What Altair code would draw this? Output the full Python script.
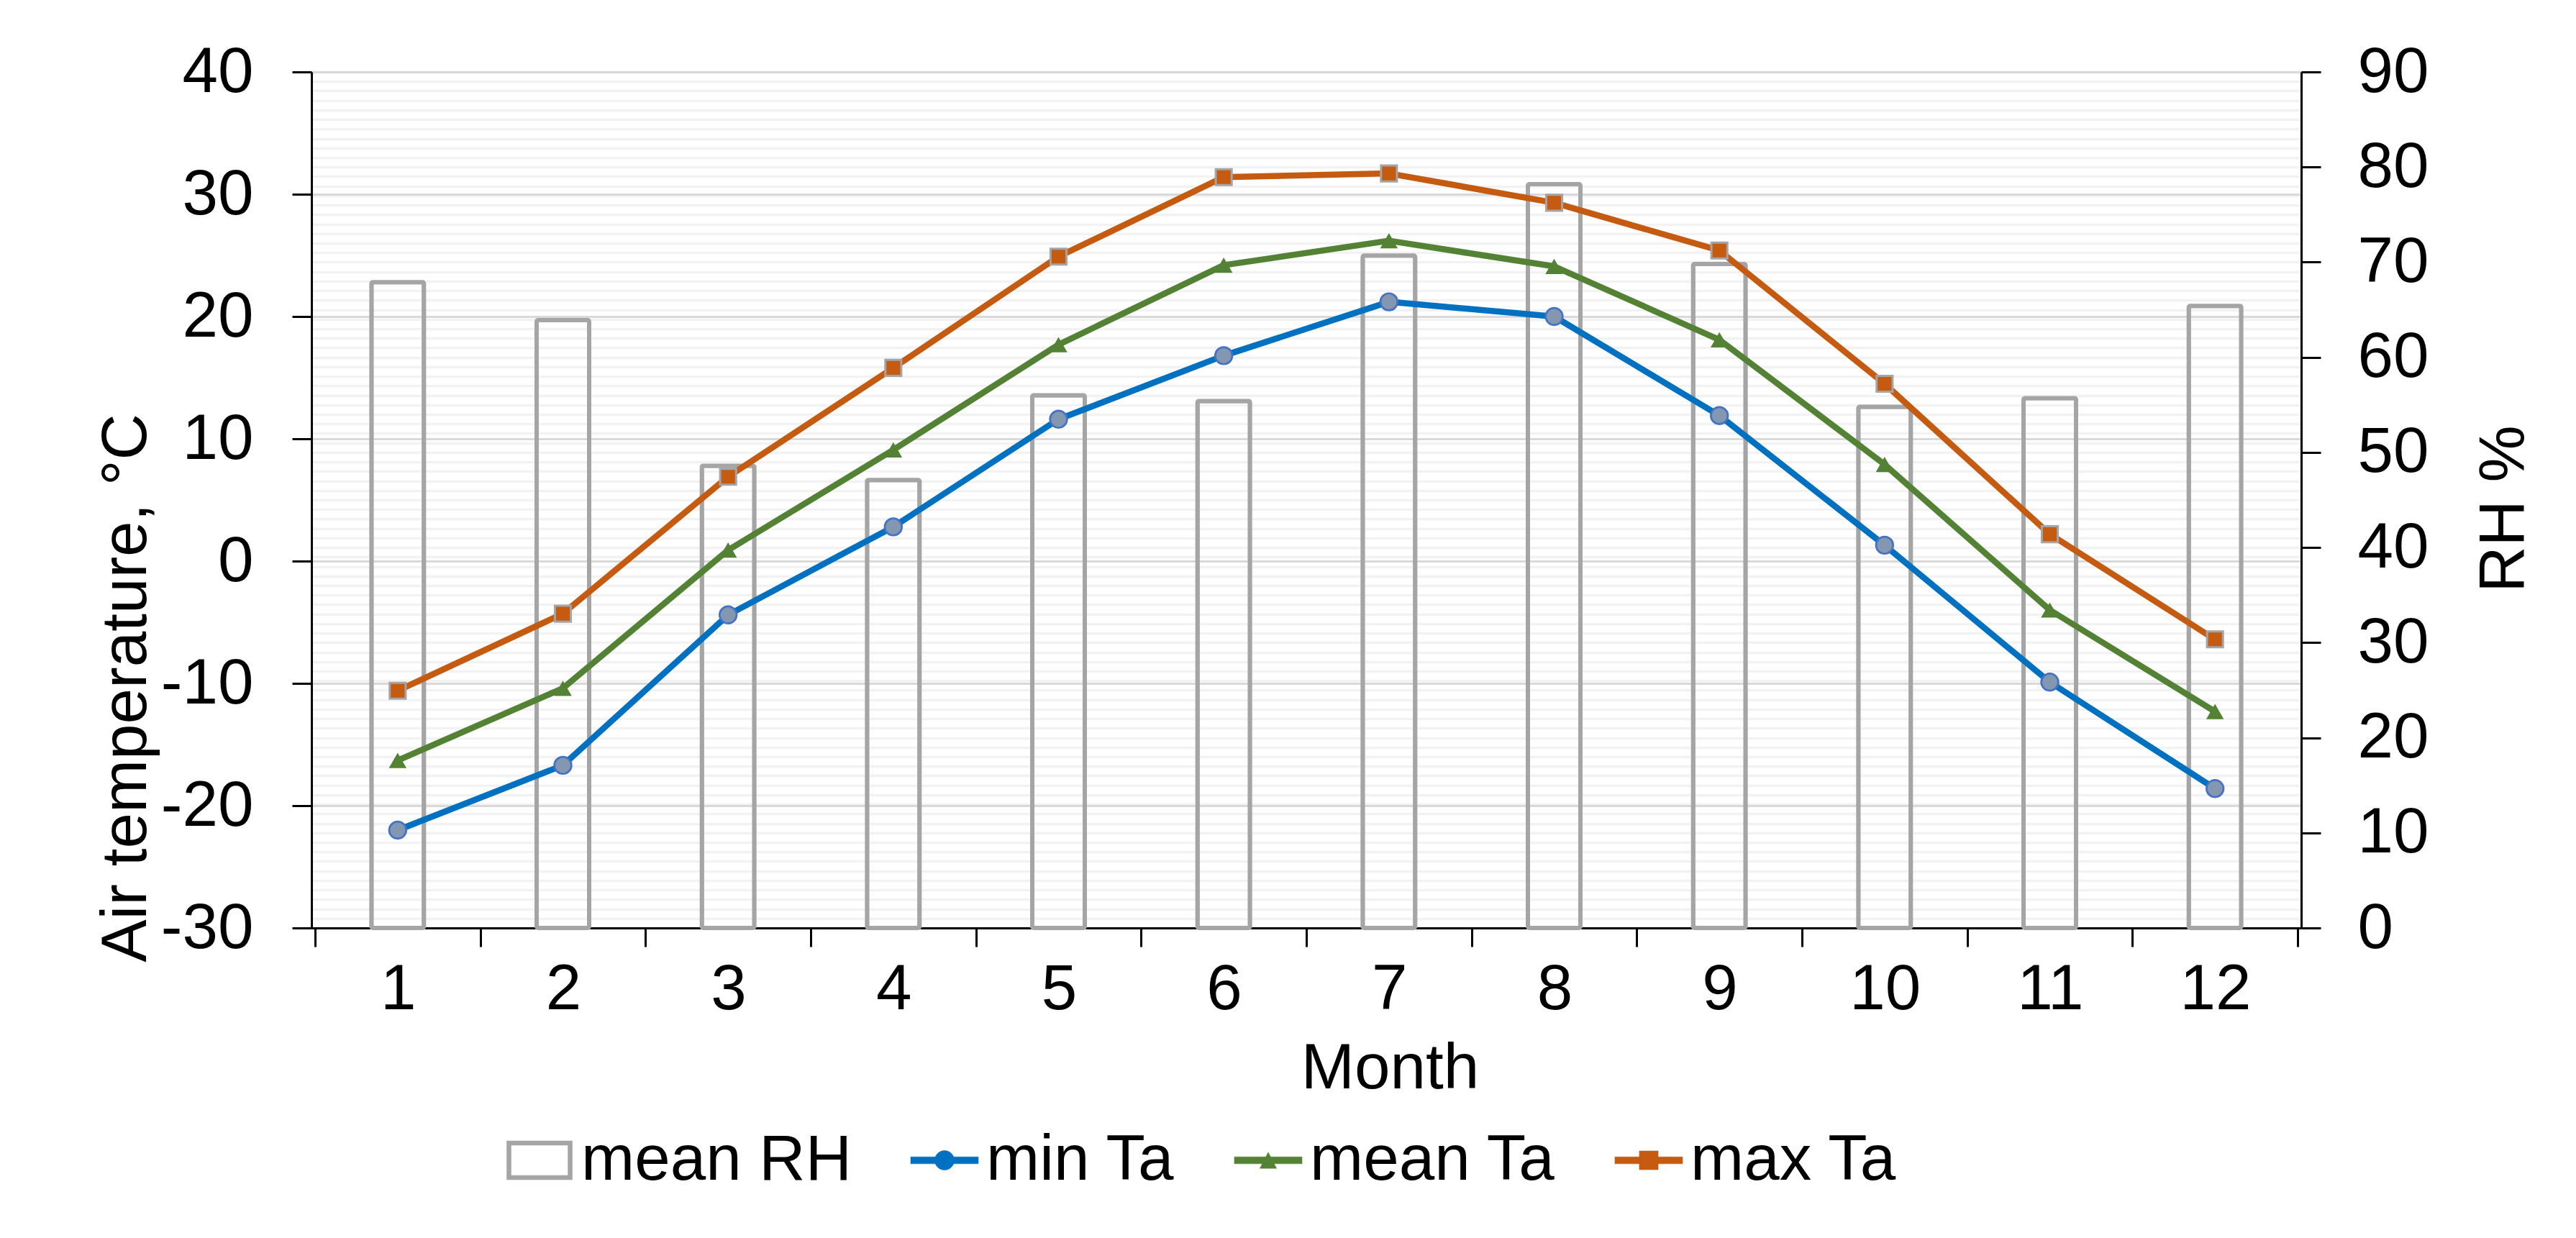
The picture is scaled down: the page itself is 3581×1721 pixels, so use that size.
import altair as alt
import pandas as pd

# ---------------- data ----------------
months = list(range(1, 13))
mean_rh = [67.9, 63.9, 48.6, 47.1, 56.0, 55.4, 70.7, 78.2, 69.8, 54.8, 55.7, 65.4]
min_ta = [-22.0, -16.7, -4.4, 2.8, 11.6, 16.8, 21.2, 20.0, 11.9, 1.3, -9.9, -18.6]
mean_ta = [-16.3, -10.4, 0.9, 9.1, 17.7, 24.2, 26.2, 24.1, 18.1, 7.9, -4.0, -12.3]
max_ta = [-10.6, -4.3, 6.9, 15.8, 24.9, 31.4, 31.7, 29.3, 25.4, 14.5, 2.2, -6.4]

series_names = ["mean RH", "min Ta", "mean Ta", "max Ta"]
x_tick_values = [m - 0.5 for m in months] + [12.5]
left_ticks = list(range(-30, 41, 10))
right_ticks = list(range(0, 91, 1))

# ---------------- styles ----------------
FONT = "Liberation Sans"
FS = 89
BLUE = "#0070C0"
GREEN = "#548235"
ORANGE = "#C55A11"
GRAY = "#A5A5A5"

legend_colors = [GRAY, BLUE, GREEN, ORANGE]
LINE = "M-0.97,-0.1H0.97V0.1H-0.97Z"
legend_paths = [
    "M-0.94,-0.557H0.94V0.557H-0.94Z M-0.814,-0.433V0.433H0.814V-0.433Z",
    LINE + " M0.28,0A0.28,0.28 0 1 1 -0.28,0A0.28,0.28 0 1 1 0.28,0Z",
    LINE + " M0,-0.23L0.24,0.23H-0.24Z",
    LINE + " M-0.27,-0.27H0.27V0.27H-0.27Z",
]

rh_df = pd.DataFrame({"month": months, "rh": mean_rh})
ta_df = pd.DataFrame({"month": months, "min Ta": min_ta, "mean Ta": mean_ta, "max Ta": max_ta})
long_df = ta_df.melt("month", var_name="series", value_name="ta")

x_axis = alt.Axis(
    orient="bottom", values=x_tick_values,
    labelExpr="datum.value < 12 ? format(datum.value + 0.5, 'd') : ''",
    labelOffset=115.25, labelFlush=False, labelOverlap=False,
    labelFont=FONT, labelFontSize=FS, labelColor="black",
    labelPadding=86, labelBaseline="alphabetic",
    tickSize=26, tickWidth=3, tickColor="black",
    domainColor="black", domainWidth=3, grid=False,
    title="Month", titleFont=FONT, titleFontSize=FS, titleFontWeight="normal",
    titleColor="black", titleX=1499, titleY=222, titleAlign="center",
    titleBaseline="alphabetic",
)
x_enc = alt.X("month:Q", scale=alt.Scale(domain=[0.5, 12.5], nice=False, zero=False), axis=x_axis)

left_axis = alt.Axis(
    orient="left", values=left_ticks, labelFlush=False, labelOverlap=False,
    labelExpr="replace(datum.label, '\u2212', '-')",
    labelFont=FONT, labelFontSize=FS, labelColor="black", labelPadding=54,
    tickSize=27, tickWidth=3, tickColor="black",
    domainColor="black", domainWidth=3,
    grid=True, gridColor="#D9D9D9", gridWidth=3,
    title="Air temperature, °C", titleFont=FONT, titleFontSize=FS,
    titleFontWeight="normal", titleColor="black", titleAngle=270,
    titleX=-231, titleY=856, titleAlign="center", titleBaseline="alphabetic",
)
left_scale = alt.Scale(domain=[-30, 40], nice=False, zero=False)

right_axis = alt.Axis(
    orient="right", values=right_ticks,
    labelExpr="datum.value % 10 === 0 ? datum.label : ''",
    labelFlush=False, labelOverlap=False,
    labelFont=FONT, labelFontSize=FS, labelColor="black", labelPadding=51,
    tickSize=27, tickWidth=3, tickColor="black",
    tickOpacity={"condition": {"test": "datum.value % 10 === 0", "value": 1}, "value": 0},
    domainColor="black", domainWidth=3,
    grid=True, gridColor="#F2F2F2", gridWidth=3.3,
    title="RH %", titleFont=FONT, titleFontSize=FS, titleFontWeight="normal",
    titleColor="black", titleAngle=270, titleX=308, titleY=607,
    titleAlign="center", titleBaseline="alphabetic",
)

bars = alt.Chart(rh_df).mark_bar(
    width=73, fill="transparent", stroke=GRAY, strokeWidth=6, cornerRadius=2
).encode(
    x=x_enc,
    y=alt.Y("rh:Q", scale=alt.Scale(domain=[0, 90], nice=False), axis=right_axis),
)

y_left = alt.Y("ta:Q", scale=left_scale, axis=left_axis)


def series_line(name, color, width):
    return alt.Chart(long_df).transform_filter(alt.datum.series == name).mark_line(
        color=color, strokeWidth=width, strokeJoin="round", strokeCap="round"
    ).encode(x=x_enc, y=y_left)


line_min = series_line("min Ta", BLUE, 8.5)
line_mean = series_line("mean Ta", GREEN, 8.5)
line_max = series_line("max Ta", ORANGE, 8.5)

pt_min = alt.Chart(long_df).transform_filter(alt.datum.series == "min Ta").mark_point(
    shape="circle", filled=True, fill="#8497B0", stroke="#4472C4", strokeWidth=2.7,
    size=560, opacity=1
).encode(x=x_enc, y=y_left)
pt_mean = alt.Chart(long_df).transform_filter(alt.datum.series == "mean Ta").mark_point(
    shape="triangle-up", filled=True, fill=GREEN, strokeWidth=0, size=600, opacity=1
).encode(x=x_enc, y=y_left)
pt_max = alt.Chart(long_df).transform_filter(alt.datum.series == "max Ta").mark_point(
    shape="square", filled=True, fill=ORANGE, stroke=GRAY, strokeWidth=3,
    size=490, opacity=1
).encode(x=x_enc, y=y_left)

leg = alt.Legend(
    orient="none", legendX=268, legendY=1464, direction="horizontal",
    title=None, padding=0, symbolSize=9409, symbolStrokeWidth=0.5,
    symbolOpacity=1, labelFont=FONT, labelFontSize=FS, labelColor="black",
    labelOffset=9, columnPadding=80, labelLimit=1000,
)
legend_layer = alt.Chart(long_df).mark_point(
    filled=True, opacity=0, strokeWidth=0.5
).encode(
    x=x_enc, y=y_left,
    fill=alt.Fill("series:N", scale=alt.Scale(domain=series_names, range=legend_colors), legend=leg),
    stroke=alt.Stroke("series:N", scale=alt.Scale(domain=series_names, range=legend_colors), legend=leg),
    shape=alt.Shape("series:N", scale=alt.Scale(domain=series_names, range=legend_paths), legend=leg),
)

temps = alt.layer(line_min, line_mean, line_max, pt_min, pt_mean, pt_max, legend_layer)

chart = alt.layer(bars, temps).resolve_scale(y="independent").properties(
    width=2766, height=1190,
    autosize=alt.AutoSizeParams(type="none"),
    padding={"left": 425, "top": 92, "right": 370, "bottom": 420},
    background="white",
).configure_view(stroke="transparent")

chart.save("out.html", embed_options={"renderer": "svg", "actions": False})
